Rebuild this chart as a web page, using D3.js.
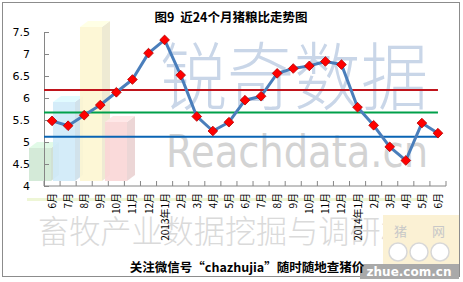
<!DOCTYPE html>
<html>
<head>
<meta charset="utf-8">
<script src="https://cdn.jsdelivr.net/npm/d3@7"></script>
<style>
  body { margin: 0; background: #fff; }
  svg { display: block; }
</style>
</head>
<body>
<div id="chart"></div>
<script>
// months from 2012-06 to 2014-06
const months = ['6月', '7月', '8月', '9月', '10月', '11月', '12月', '2013年1月', '2月', '3月', '4月', '5月',
  '6月', '7月', '8月', '9月', '10月', '11月', '12月', '2014年1月', '2月', '3月', '4月', '5月', '6月'];
const ratio = [5.48, 5.37, 5.61, 5.84, 6.13, 6.42, 7.02, 7.32, 6.52, 5.58, 5.25, 5.45,
  5.95, 6.04, 6.56, 6.67, 6.73, 6.83, 6.76, 5.79, 5.38, 4.89, 4.58, 5.43, 5.2];
const yTicks = [4, 4.5, 5, 5.5, 6, 6.5, 7, 7.5];
// reference levels (red / green / blue)
const levels = [
  { value: 6.18, color: '#c0141c' },
  { value: 5.67, color: '#00a04a' },
  { value: 5.12, color: '#0a64b4' }
];
// decorative background bars
const deco = [
  { x: 29, top: 148, color: '#cfe8d4' },
  { x: 53, top: 102, color: '#cfeaf8' },
  { x: 80, top: 27, color: '#fdf6d2' },
  { x: 105, top: 122, color: '#f9d6d6' }
];

const width = 463, height = 282;
const margin = { top: 32, right: 17, bottom: 96, left: 44 };

const svg = d3.select('#chart').append('svg')
  .attr('width', width)
  .attr('height', height);

// frame
svg.append('rect')
  .attr('x', 2.5).attr('y', 2.5)
  .attr('width', 457).attr('height', 274)
  .attr('fill', '#fff').attr('stroke', '#8c8c8c');

// background decoration
const bg = svg.append('g');
deco.forEach(function(d) {
  const w = 22, dx = 8, dy = 6, bottom = 181;
  bg.append('rect').attr('x', d.x).attr('y', d.top).attr('width', w).attr('height', bottom - d.top)
    .attr('fill', d.color).attr('opacity', 0.9);
  bg.append('path')
    .attr('d', `M${d.x + w},${d.top} L${d.x + w + dx},${d.top - dy} L${d.x + w + dx},${bottom - dy} L${d.x + w},${bottom} Z`)
    .attr('fill', d3.color(d.color).darker(0.25)).attr('opacity', 0.7);
  bg.append('path')
    .attr('d', `M${d.x},${d.top} L${d.x + dx},${d.top - dy} L${d.x + w + dx},${d.top - dy} L${d.x + w},${d.top} Z`)
    .attr('fill', d3.color(d.color).brighter(0.2)).attr('opacity', 0.9);
});
bg.append('rect').attr('x', 27).attr('y', 198).attr('width', 401).attr('height', 3)
  .attr('fill', '#eef6d6');

bg.append('text')
  .attr('x', 160).attr('y', 104)
  .attr('textLength', 268).attr('lengthAdjust', 'spacingAndGlyphs')
  .style('font-family', '"Noto Sans CJK SC"').style('font-weight', 300).style('font-size', '74px')
  .attr('fill', '#c9d6e8')
  .text('锐奇数据');
bg.append('text')
  .attr('x', 166).attr('y', 167)
  .attr('textLength', 262).attr('lengthAdjust', 'spacingAndGlyphs')
  .style('font-family', '"DejaVu Sans"').style('font-size', '44px')
  .attr('fill', '#d3d3d3')
  .text('Reachdata.cn');
bg.append('text')
  .attr('x', 38).attr('y', 243)
  .attr('textLength', 405).attr('lengthAdjust', 'spacingAndGlyphs')
  .style('font-family', '"Noto Sans CJK SC"').style('font-weight', 300).style('font-size', '32px')
  .attr('fill', '#dadada')
  .text('畜牧产业数据挖掘与调研机构');

// logo bottom right
const logo = svg.append('g');
logo.append('rect').attr('x', 383).attr('y', 215).attr('width', 76).attr('height', 50).attr('fill', '#fbf1d4');
logo.append('text').attr('x', 394).attr('y', 236)
  .style('font-family', '"Noto Sans CJK SC"').style('font-size', '13px').attr('fill', '#c8c8c8').text('猪');
logo.append('text').attr('x', 432).attr('y', 236)
  .style('font-family', '"Noto Sans CJK SC"').style('font-size', '13px').attr('fill', '#c8c8c8').text('网');
[398, 419, 440].forEach(function(cx) {
  logo.append('circle').attr('cx', cx).attr('cy', 252).attr('r', 9)
    .attr('fill', '#fff').attr('stroke', '#d8d8d8').attr('stroke-width', 1.5);
});
logo.append('rect').attr('x', 360).attr('y', 264).attr('width', 99).attr('height', 15).attr('fill', '#a9a9a9');
logo.append('text').attr('x', 409).attr('y', 276).attr('text-anchor', 'middle')
  .style('font-family', '"DejaVu Sans"').style('font-weight', 'bold').style('font-size', '12px')
  .attr('fill', '#fff').text('zhue.com.cn');

// scales
const x = d3.scaleBand()
  .domain(d3.range(months.length))
  .range([margin.left, width - margin.right])
  .padding(0);
const y = d3.scaleLinear()
  .domain([4, 7.5])
  .range([186, 32]);

const axisColor = '#868686';

// y axis
const yAxis = svg.append('g')
  .attr('transform', `translate(${margin.left},0)`)
  .call(d3.axisRight(y).tickValues(yTicks).tickSize(5).tickFormat(d3.format('')));
yAxis.select('.domain').attr('stroke', axisColor);
yAxis.selectAll('.tick line').attr('stroke', axisColor);
yAxis.selectAll('.tick text')
  .attr('x', -14).attr('text-anchor', 'end')
  .style('font-family', '"DejaVu Sans"').style('font-size', '11px').attr('fill', '#000');

// x axis: ticks at band boundaries, labels at band centres
const x0 = x.range()[0];
const bounds = d3.range(months.length + 1).map(function(i) { return x0 + i * x.step(); });
svg.append('line')
  .attr('x1', x0).attr('x2', bounds[bounds.length - 1])
  .attr('y1', y(4)).attr('y2', y(4))
  .attr('stroke', axisColor);
svg.append('g').selectAll('line')
  .data(bounds).enter().append('line')
  .attr('x1', function(d) { return d; }).attr('x2', function(d) { return d; })
  .attr('y1', y(4)).attr('y2', y(4) - 5)
  .attr('stroke', axisColor);

svg.append('g').selectAll('text')
  .data(months).enter().append('text')
  .attr('transform', function(d, i) { return `translate(${x(i) + x.bandwidth() / 2 + 4},193) rotate(-90)`; })
  .attr('text-anchor', 'end')
  .style('font-family', '"Noto Sans CJK SC"').style('font-size', '10px')
  .attr('fill', '#000')
  .text(function(d) { return d; });

// reference lines
const lastX = x(months.length - 1) + x.bandwidth() / 2;
svg.append('g').selectAll('line')
  .data(levels).enter().append('line')
  .attr('x1', x0).attr('x2', lastX)
  .attr('y1', function(d) { return y(d.value); })
  .attr('y2', function(d) { return y(d.value); })
  .attr('stroke', function(d) { return d.color; })
  .attr('stroke-width', 2);

// ratio line
const line = d3.line()
  .x(function(d, i) { return x(i) + x.bandwidth() / 2; })
  .y(function(d) { return y(d); });
svg.append('path')
  .datum(ratio)
  .attr('d', line)
  .attr('fill', 'none')
  .attr('stroke', '#4a7ebb')
  .attr('stroke-width', 3)
  .attr('stroke-linejoin', 'round');

svg.append('g').selectAll('path')
  .data(ratio).enter().append('path')
  .attr('d', d3.symbol().type(d3.symbolDiamond2).size(60))
  .attr('transform', function(d, i) { return `translate(${x(i) + x.bandwidth() / 2},${y(d)})`; })
  .attr('fill', '#ff0000')
  .attr('stroke', '#b00000')
  .attr('stroke-width', 0.8);

// title and caption
svg.append('text')
  .attr('x', 231).attr('y', 22).attr('text-anchor', 'middle')
  .style('white-space', 'pre')
  .style('font-family', '"Noto Sans CJK SC"').style('font-weight', 'bold').style('font-size', '12.5px')
  .attr('fill', '#000')
  .text('图9  近24个月猪粮比走势图');
svg.append('text')
  .attr('x', 247).attr('y', 272).attr('text-anchor', 'middle')
  .style('font-family', '"Noto Sans CJK SC"').style('font-weight', 'bold').style('font-size', '12.5px')
  .attr('fill', '#000')
  .text('关注微信号“chazhujia”随时随地查猪价');
</script>
</body>
</html>
